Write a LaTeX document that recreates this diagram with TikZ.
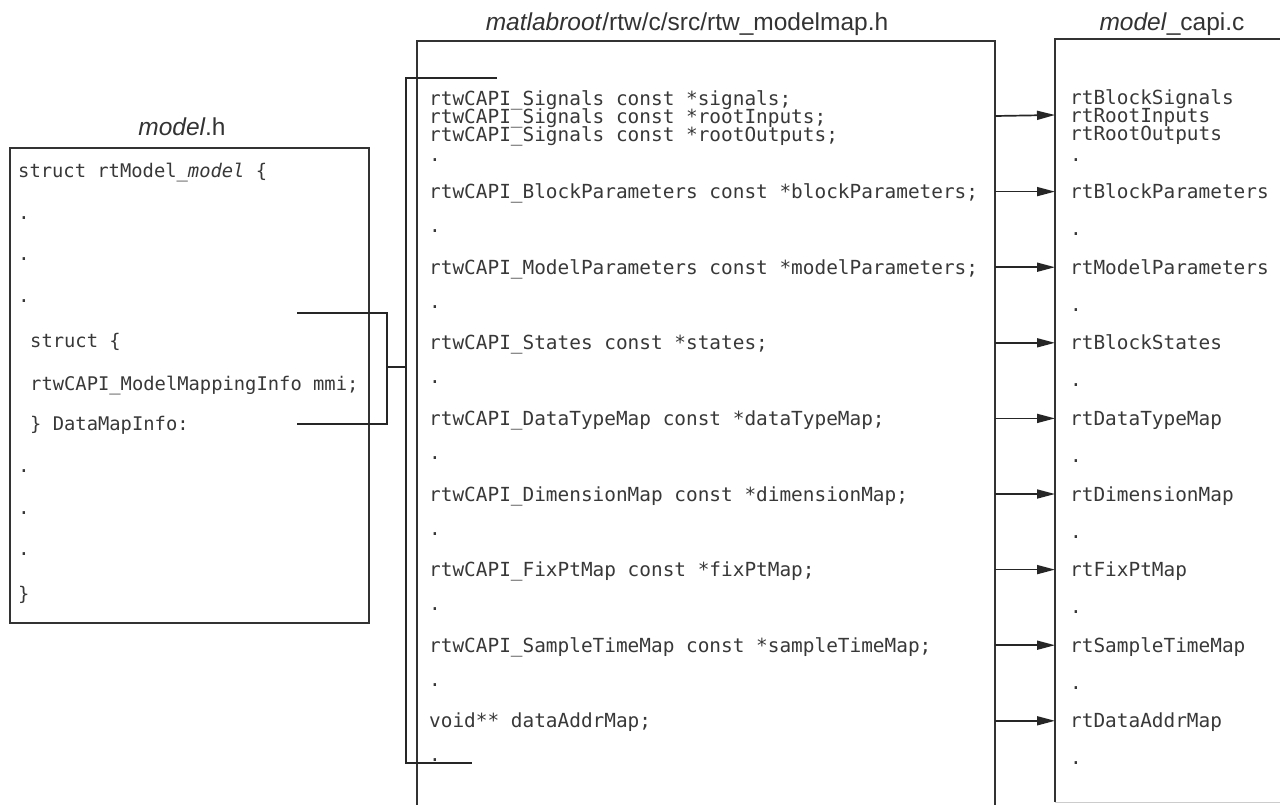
\documentclass[tikz,border=0pt]{standalone}
\usepackage{fontspec}
\setmainfont{Liberation Sans}
\setmonofont{DejaVu Sans Mono}
\usetikzlibrary{arrows.meta}

\begin{document}
\begin{tikzpicture}[x=1pt, y=-1pt,
  code/.style={anchor=west, inner sep=0pt, text=black!78, text height=14pt, text depth=0pt,
    font=\ttfamily\fontsize{19.4}{18}\selectfont},
  lcode/.style={code, font=\ttfamily\fontsize{18.8}{18}\selectfont},
  dotc/.style={code, anchor=base west, text height=4pt},
  title/.style={anchor=base, inner sep=0pt, text=black!80, font=\fontsize{24.5}{28}\selectfont},
  frame/.style={draw=black!80, line width=1.8pt},
  link/.style={draw=black!85, line width=1.7pt},
  ptr/.style={link, -{Triangle[length=18pt, width=9pt]}}]
  \useasboundingbox (0,0) rectangle (1280,804);
  \clip (0,0) rectangle (1280,804);
  % --- frames ---
  \draw[frame] (10,148) rectangle (369,623);
  \draw[frame] (417,812) -- (417,41) -- (995,41) -- (995,812);
  \draw[frame] (1290,39) -- (1055,39) -- (1055,802);
  \draw[gray!40, line width=1pt] (1055,802) -- (1290,802);
  \coordinate (mapR) at (995,41);
  \coordinate (capL) at (1055,39);
  % --- titles ---
  \node[title] (tModel) at (182,135) {\textit{model}.h};
  \node[title] (tMap) at (687,30) {\textit{matlabroot}/rtw/c/src/rtw\_modelmap.h};
  \node[title] (tCapi) at (1172,30) {\textit{model}\_capi.c};
  % --- model.h ---
  \node[lcode] (lHead) at (18,170) {struct rtModel\_\textit{model} \{};
  \node[lcode, dotc] (lDot1) at (18,219) {.};
  \node[lcode, dotc] (lDot2) at (18,260) {.};
  \node[lcode, dotc] (lDot3) at (18,302) {.};
  \node[lcode] (lStr) at (30,340) {struct \{};
  \node[lcode] (lMmi) at (30,383) {rtwCAPI\_ModelMappingInfo mmi;};
  \node[lcode] (lInfo) at (30,423) {\} DataMapInfo:};
  \node[lcode, dotc] (lDot4) at (18,472) {.};
  \node[lcode, dotc] (lDot5) at (18,514) {.};
  \node[lcode, dotc] (lDot6) at (18,555) {.};
  \node[lcode] (lEnd) at (18,593) {\}};
  % --- rtw_modelmap.h ---
  \node[code] (mSig) at (429,98) {rtwCAPI\_Signals const *signals;};
  \node[code] (mIn) at (429,116) {rtwCAPI\_Signals const *rootInputs;};
  \node[code] (mOut) at (429,134) {rtwCAPI\_Signals const *rootOutputs;};
  \node[code] (mBP) at (429,191.6) {rtwCAPI\_BlockParameters const *blockParameters;};
  \node[code] (mMP) at (429,267.2) {rtwCAPI\_ModelParameters const *modelParameters;};
  \node[code] (mSt) at (429,342.8) {rtwCAPI\_States const *states;};
  \node[code] (mDT) at (429,418.4) {rtwCAPI\_DataTypeMap const *dataTypeMap;};
  \node[code] (mDim) at (429,494) {rtwCAPI\_DimensionMap const *dimensionMap;};
  \node[code] (mFix) at (429,569.6) {rtwCAPI\_FixPtMap const *fixPtMap;};
  \node[code] (mST) at (429,645.2) {rtwCAPI\_SampleTimeMap const *sampleTimeMap;};
  \node[code] (mDA) at (429,720.8) {void** dataAddrMap;};
  \foreach \y [count=\i] in {159,230.6,306.2,381.8,457.4,533,608.6,684.2,759.8}
    \node[dotc] (mDot\i) at (429,\y+2) {.};
  % --- model_capi.c ---
  \node[code] (cSig) at (1070,97) {rtBlockSignals};
  \node[code] (cIn) at (1070,115) {rtRootInputs};
  \node[code] (cOut) at (1070,133) {rtRootOutputs};
  \node[code] (cBP) at (1070,191.6) {rtBlockParameters};
  \node[code] (cMP) at (1070,267.2) {rtModelParameters};
  \node[code] (cSt) at (1070,342.8) {rtBlockStates};
  \node[code] (cDT) at (1070,418.4) {rtDataTypeMap};
  \node[code] (cDim) at (1070,494) {rtDimensionMap};
  \node[code] (cFix) at (1070,569.6) {rtFixPtMap};
  \node[code] (cST) at (1070,645.2) {rtSampleTimeMap};
  \node[code] (cDA) at (1070,720.8) {rtDataAddrMap};
  \foreach \y [count=\i] in {159,233.6,309.2,384.8,460.4,536,611.6,687.2,762.8}
    \node[dotc] (cDot\i) at (1070,\y+2) {.};
  % --- pointers into model_capi.c ---
  \foreach \a/\b in {mIn/cIn, mBP/cBP, mMP/cMP, mSt/cSt, mDT/cDT, mDim/cDim, mFix/cFix, mST/cST, mDA/cDA}
    \draw[ptr] (\a -| mapR) -- (\b -| capL);
  % --- DataMapInfo bracket ---
  \coordinate (dmTop) at (297,313);
  \coordinate (dmBot) at (297,424);
  \coordinate (dmJoin) at (387,367);
  \coordinate (brTop) at (497,78);
  \coordinate (brBot) at (472,763);
  \draw[link] (dmTop) -- (387,313) -- (387,424) -- (dmBot);
  \draw[link] (dmJoin) -- (406,367);
  \draw[link] (brTop) -- (406,78) -- (406,763) -- (brBot);
\end{tikzpicture}
\end{document}
